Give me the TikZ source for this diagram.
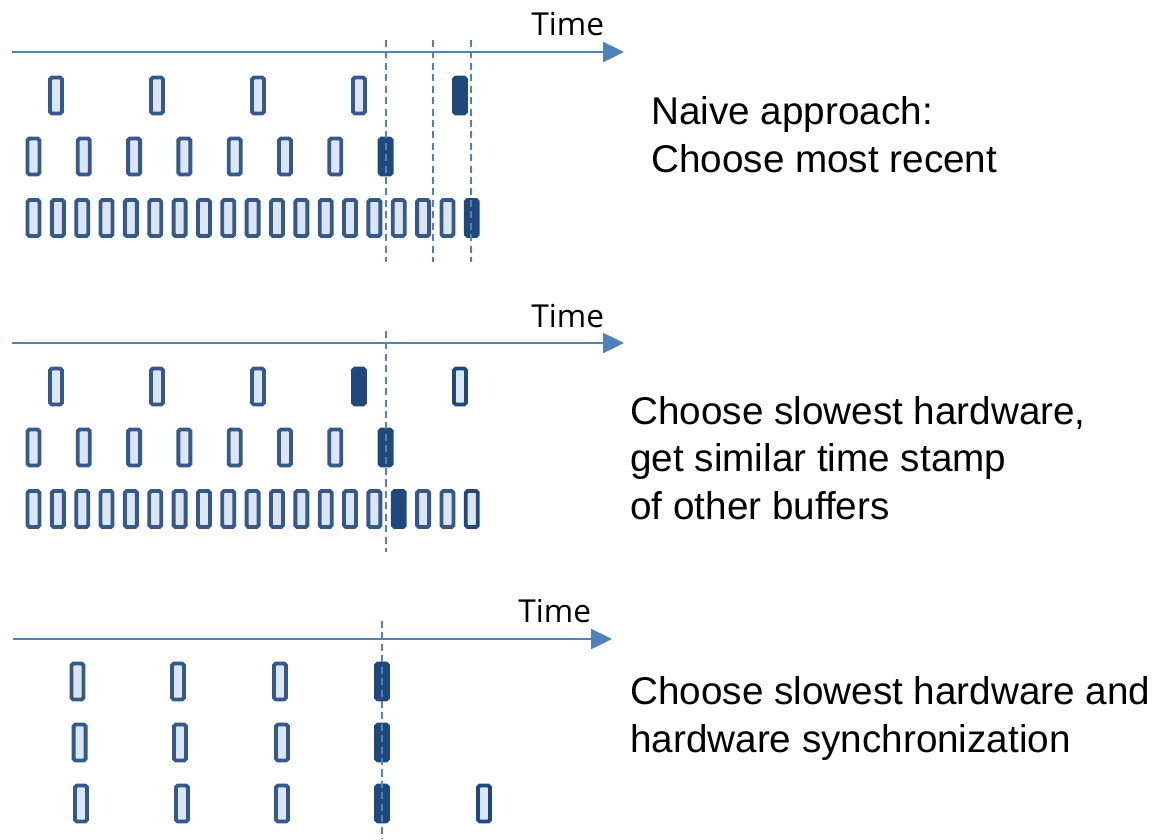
\documentclass[tikz,border=0pt]{standalone}
\usepackage{fontspec}
\setmainfont{Liberation Sans}
\newfontfamily\timefont{Open Sans}
\usepackage{xcolor}
\usepackage{tikz}
\usetikzlibrary{arrows.meta}

\definecolor{axisblue}{HTML}{4F81BD}
\definecolor{bufline}{HTML}{34598A}
\definecolor{buffill}{HTML}{DCE6F2}
\definecolor{bufdark}{HTML}{1F497D}

\tikzset{
  buf/.style={draw=bufline, fill=buffill, line width=2.2pt, rounded corners=1pt,
    minimum width=0.24cm, minimum height=0.72cm, inner sep=0pt},
  bufsel/.style={buf, draw=bufdark, fill=bufdark},
  bufnew/.style={buf, draw=bufdark},
  timeline/.style={axisblue, line width=1.4pt, -{Triangle[length=0.42cm, width=0.4cm]}},
  cutline/.style={axisblue, line width=1.1pt, dash pattern=on 4pt off 2.5pt},
  timelbl/.style={anchor=base west, inner sep=0pt, font=\timefont\fontsize{18}{22}\selectfont},
  note/.style={anchor=base west, inner sep=0pt, align=left, font=\fontsize{22}{27}\selectfont}
}

\begin{document}
\begin{tikzpicture}[x=0.02cm, y=-0.02cm]
\useasboundingbox (0,0) rectangle (1158,839);

% naive approach
\coordinate (ax1a) at (12,52);
\coordinate (ax1b) at (624,52);
\draw[timeline] (ax1a) -- (ax1b);
\node[timelbl] (time1) at (531,35) {Time};
\foreach \i in {0,...,3}
    \node[buf] (n1a\i) at (56+101*\i, 95.5) {};
\node[bufsel] (n1a4) at (460, 95.5) {};
\foreach \i in {0,...,6}
    \node[buf] (n1b\i) at (33.5+50.3*\i, 156.5) {};
\node[bufsel] (n1b7) at (385.6, 156.5) {};
\foreach \i in {0,...,17}
    \node[buf] (n1c\i) at (33.5+24.35*\i, 218) {};
\node[bufsel] (n1c18) at (471.8, 218) {};
\foreach \x/\name in {386/d1a, 433/d1b, 471/d1c} {
    \coordinate (\name top) at (\x, 40);
    \coordinate (\name bot) at (\x, 262);
    \draw[cutline] (\name top) -- (\name bot);
}
% base of a multi-line node sits on its last line
\node[note] (txt1) at (651,172) {Naive approach:\\Choose most recent};

% slowest hardware
\coordinate (ax2a) at (12,343);
\coordinate (ax2b) at (624,343);
\draw[timeline] (ax2a) -- (ax2b);
\node[timelbl] (time2) at (531,327) {Time};
\foreach \i in {0,...,2}
    \node[buf] (n2a\i) at (56+101*\i, 386.5) {};
\node[bufsel] (n2a3) at (359, 386.5) {};
\node[bufnew] (n2a4) at (460, 386.5) {};
\foreach \i in {0,...,6}
    \node[buf] (n2b\i) at (33.5+50.3*\i, 447.5) {};
\node[bufsel] (n2b7) at (385.6, 447.5) {};
\foreach \i in {0,...,14}
    \node[buf] (n2c\i) at (33.5+24.35*\i, 509) {};
\node[bufsel] (n2c15) at (398.8, 509) {};
\foreach \i in {16,17}
    \node[buf] (n2c\i) at (33.5+24.35*\i, 509) {};
\node[bufnew] (n2c18) at (471.8, 509) {};
\coordinate (d2top) at (386, 331);
\coordinate (d2bot) at (386, 552);
\draw[cutline] (d2top) -- (d2bot);
\node[note] (txt2) at (630,519) {Choose slowest hardware,\\get similar time stamp\\of other buffers};

% hardware synchronization
\coordinate (ax3a) at (13,639);
\coordinate (ax3b) at (612,639);
\draw[timeline] (ax3a) -- (ax3b);
\node[timelbl] (time3) at (518,622) {Time};
\foreach \x [count=\i] in {77.5, 178, 280}
    \node[buf] (n3a\i) at (\x, 681.5) {};
\node[bufsel] (n3a4) at (382, 681.5) {};
\foreach \x [count=\i] in {79.6, 180, 282}
    \node[buf] (n3b\i) at (\x, 742.5) {};
\node[bufsel] (n3b4) at (382, 742.5) {};
\foreach \x [count=\i] in {81, 182, 282}
    \node[buf] (n3c\i) at (\x, 803.5) {};
\node[bufsel] (n3c4) at (382, 803.5) {};
\node[bufnew] (n3c5) at (484, 803.5) {};
\coordinate (d3top) at (382, 621);
\coordinate (d3bot) at (382, 839);
\draw[cutline] (d3top) -- (d3bot);
\node[note] (txt3) at (630,752) {Choose slowest hardware and\\hardware synchronization};
\end{tikzpicture}
\end{document}
